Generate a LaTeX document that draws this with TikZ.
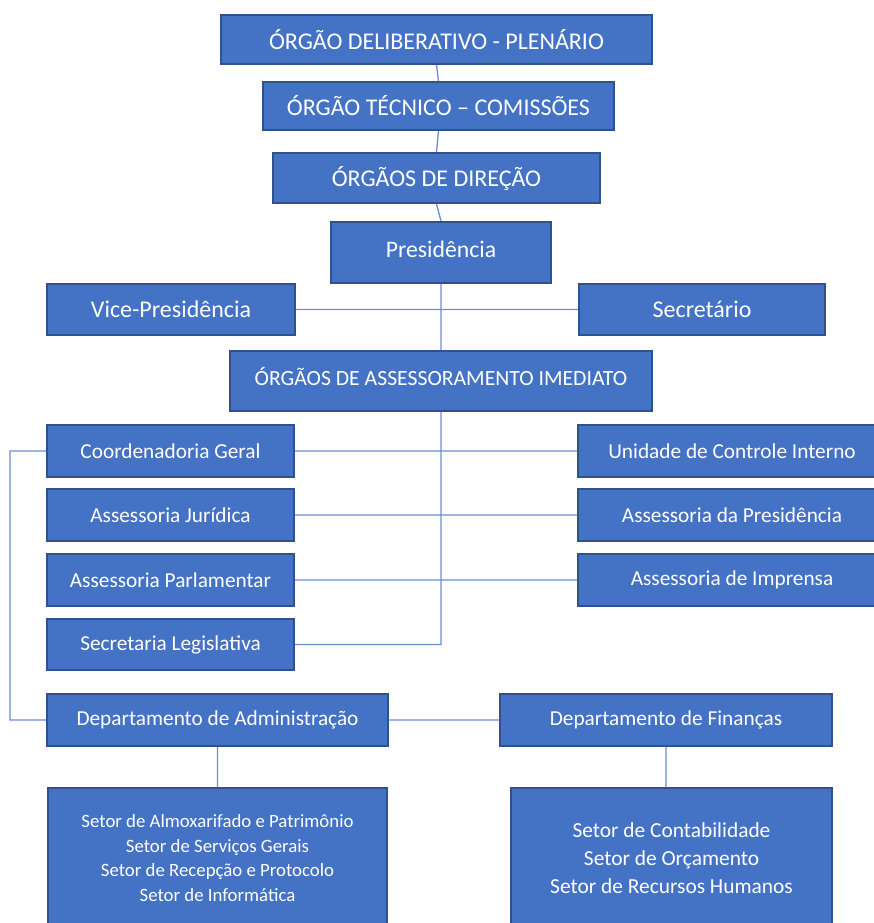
\documentclass[tikz,border=0pt]{standalone}
\usepackage{fontspec}
\setmainfont{Carlito}
\definecolor{boxfill}{HTML}{4472C4}
\definecolor{boxedge}{HTML}{2F528F}
\definecolor{linkc}{HTML}{6A8FD4}
\begin{document}
\begin{tikzpicture}[x=1pt,y=-1pt,
  box/.style={draw=boxedge,line width=2pt,fill=boxfill,text=white,inner sep=0pt,align=center},
  link/.style={draw=linkc,line width=1.3pt},
  big/.style={font=\fontsize{24}{28}\selectfont},
  mid/.style={font=\fontsize{21.3}{25}\selectfont}]
\useasboundingbox (0,0) rectangle (874,923);
\fill[white] (0,0) rectangle (874,923);
% boxes
\node[box,big,minimum width=431pt,minimum height=49pt] (b1) at (436.5,39.5) {ÓRGÃO DELIBERATIVO - PLENÁRIO};
\node[box,big,minimum width=351pt,minimum height=48pt] (b2) at (438.5,106) {ÓRGÃO TÉCNICO – COMISSÕES};
\node[box,big,minimum width=327pt,minimum height=50pt] (b3) at (436.5,178) {ÓRGÃOS DE DIREÇÃO};
\node[box,minimum width=220pt,minimum height=61pt] (pres) at (441,252.5) {};
\node[font=\fontsize{23.7}{28}\selectfont,text=white] at (441,249) {Presidência};
\node[box,big,minimum width=248pt,minimum height=51pt] (vice) at (171,309.5) {Vice-Presidência};
\node[box,big,minimum width=246pt,minimum height=51pt] (sec) at (702,309.5) {Secretário};
\node[box,minimum width=422pt,minimum height=60pt] (oai) at (441,381) {};
\node[font=\fontsize{21.7}{25}\selectfont,text=white] at (441,377) {ÓRGÃOS DE ASSESSORAMENTO IMEDIATO};
\node[box,mid,minimum width=247pt,minimum height=52pt] (coord) at (170.5,451) {Coordenadoria Geral};
\node[box,mid,minimum width=247pt,minimum height=52pt] (aj) at (170.5,515) {Assessoria Jurídica};
\node[box,mid,minimum width=247pt,minimum height=52pt] (apar) at (170.5,580) {Assessoria Parlamentar};
\node[box,mid,minimum width=247pt,minimum height=51pt] (sl) at (170.5,644.5) {Secretaria Legislativa};
\node[box,mid,minimum width=308pt,minimum height=52pt] (uci) at (732,451) {Unidade de Controle Interno};
\node[box,mid,minimum width=308pt,minimum height=52pt] (apres) at (732,515) {Assessoria da Presidência};
\node[box,mid,minimum width=308pt,minimum height=52pt] (aimp) at (732,580) {Assessoria de Imprensa};
\node[box,mid,minimum width=341pt,minimum height=52pt] (da) at (217.5,720) {Departamento de Administração};
\node[box,mid,minimum width=332pt,minimum height=52pt] (df) at (666,720) {Departamento de Finanças};
\node[box,minimum width=339pt,minimum height=140pt,font=\fontsize{18.8}{24.5}\selectfont] (sa) at (217.5,858)
  {Setor de Almoxarifado e Patrimônio\\Setor de Serviços Gerais\\Setor de Recepção e Protocolo\\Setor de Informática};
\node[box,minimum width=321pt,minimum height=140pt,font=\fontsize{21.4}{28}\selectfont] (sf) at (671.5,858)
  {Setor de Contabilidade\\Setor de Orçamento\\Setor de Recursos Humanos};
% connectors
\coordinate (lft) at (10,0);
\path[link] (b1.south) -- (b2.north) (b2.south) -- (b3.north) (b3.south) -- (pres.north)
  (pres.south) -- (oai.north) (vice.east) -- (sec.west)
  (oai.south) |- (sl.east)
  (coord.east) -- (uci.west) (aj.east) -- (apres.west) (apar.east) -- (aimp.west)
  (coord.west) -| (lft |- da.west) -- (da.west)
  (da.east) -- (df.west)
  (da.south) -- (da.south |- sa.north)
  (df.south) -- (df.south |- sf.north);
\end{tikzpicture}
\end{document}
